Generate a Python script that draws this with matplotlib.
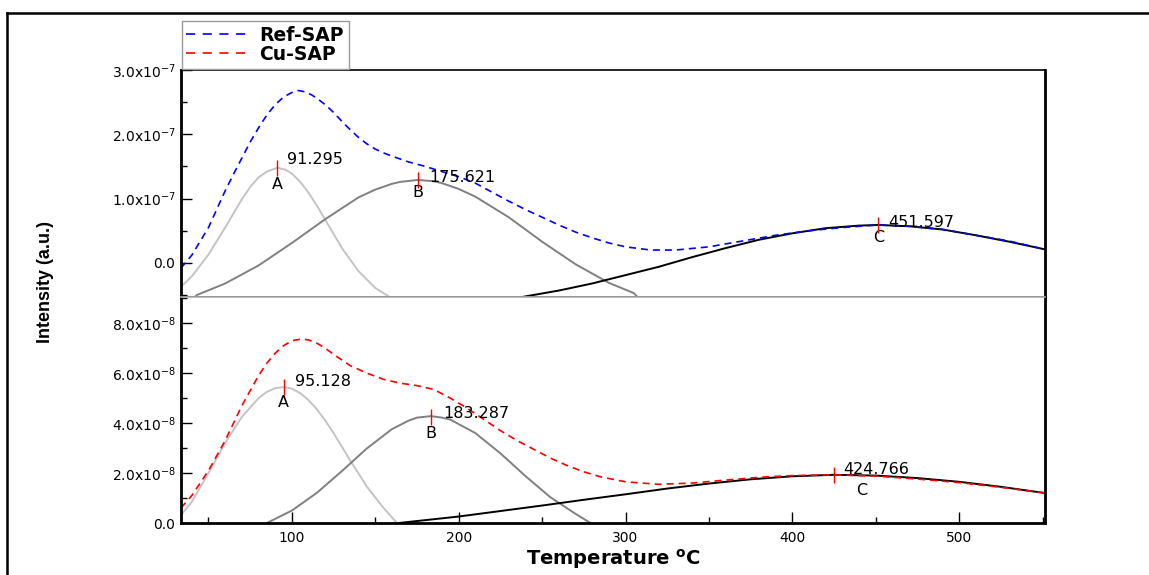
import numpy as np
import matplotlib.pyplot as plt
from matplotlib.lines import Line2D
from matplotlib.ticker import MultipleLocator

plt.rcParams['font.family'] = ['DejaVu Sans']
plt.rcParams['mathtext.default'] = 'regular'

# ---- top panel: Ref-SAP (values in 1e-7) ----
ref_T = [33.5, 40, 43, 50, 57, 60, 65, 70, 75, 80, 85, 90, 95, 100, 104, 108, 112, 116, 120,
         125, 130, 135, 140, 145, 150, 155, 160, 170, 180, 190, 200, 210, 220, 230, 240, 250,
         260, 270, 280, 290, 300, 315, 330, 350, 370, 390, 410, 430, 451.6, 470, 490, 510,
         530, 551.5]
ref_sap = [-0.08, 0.12, 0.25, 0.55, 0.95, 1.12, 1.38, 1.63, 1.88, 2.10, 2.30, 2.46, 2.58,
           2.65, 2.68, 2.66, 2.61, 2.54, 2.46, 2.34, 2.20, 2.07, 1.95, 1.85, 1.77, 1.71,
           1.66, 1.57, 1.50, 1.42, 1.34, 1.24, 1.10, 0.96, 0.83, 0.71, 0.59, 0.48, 0.39,
           0.31, 0.25, 0.20, 0.20, 0.25, 0.34, 0.43, 0.50, 0.55, 0.59, 0.57, 0.52, 0.43,
           0.34, 0.21]

refA_T = [33.5, 40, 50, 60, 70, 75, 80, 85, 91.3, 96, 100, 105, 110, 115, 120, 125, 130, 140,
          150, 158, 161]
refA = [-0.37, -0.21, 0.13, 0.55, 0.99, 1.18, 1.33, 1.42, 1.48, 1.45, 1.39, 1.26, 1.09, 0.89,
        0.67, 0.45, 0.23, -0.13, -0.39, -0.52, -0.58]
refB_T = [40, 43, 60, 80, 100, 120, 140, 150, 160, 165, 175.6, 185, 190, 200, 210, 230, 250,
          270, 290, 305, 309]
refB = [-0.58, -0.50, -0.32, -0.04, 0.31, 0.68, 1.02, 1.14, 1.23, 1.26, 1.29, 1.27, 1.24,
        1.15, 1.03, 0.71, 0.33, -0.02, -0.31, -0.47, -0.58]
refC_T = [234, 238, 260, 280, 300, 320, 340, 360, 380, 400, 420, 440, 451.6, 470, 490, 510,
          530, 551.5]
refC = [-0.58, -0.53, -0.43, -0.32, -0.19, -0.06, 0.09, 0.23, 0.36, 0.46, 0.54, 0.58, 0.59,
        0.57, 0.52, 0.43, 0.33, 0.21]

# ---- bottom panel: Cu-SAP (values in 1e-8) ----
cu_T = [33.5, 40, 50, 60, 70, 80, 85, 90, 95, 100, 106, 110, 115, 120, 125, 135, 145, 155,
        165, 175, 185, 195, 205, 215, 225, 235, 245, 255, 265, 275, 285, 300, 320, 340, 360,
        380, 400, 424.8, 450, 475, 500, 525, 551.5]
cu_sap = [0.6, 1.1, 2.1, 3.3, 4.7, 5.9, 6.4, 6.8, 7.1, 7.3, 7.37, 7.33, 7.2, 7.0, 6.75, 6.3,
          6.0, 5.75, 5.6, 5.5, 5.35, 5.0, 4.6, 4.15, 3.7, 3.3, 2.95, 2.6, 2.3, 2.05, 1.85,
          1.65, 1.55, 1.6, 1.72, 1.83, 1.9, 1.93, 1.88, 1.76, 1.62, 1.43, 1.2]

cuA_T = [33.5, 40, 50, 60, 70, 80, 85, 90, 95.1, 100, 105, 110, 115, 120, 125, 135, 145, 155,
         163]
cuA = [0.32, 0.85, 2.0, 3.2, 4.25, 5.0, 5.25, 5.40, 5.44, 5.38, 5.2, 4.92, 4.55, 4.1, 3.6,
       2.5, 1.45, 0.6, 0.0]
cuB_T = [85, 100, 115, 130, 145, 160, 170, 175, 183.3, 190, 195, 210, 225, 240, 255, 270, 279]
cuB = [0.0, 0.50, 1.21, 2.08, 2.99, 3.76, 4.10, 4.22, 4.28, 4.22, 4.14, 3.60, 2.79, 1.88,
       1.03, 0.37, 0.0]
cuC_T = [164, 200, 225, 250, 275, 300, 325, 350, 375, 400, 424.8, 450, 475, 500, 525, 551.5]
cuC = [0.0, 0.26, 0.48, 0.70, 0.93, 1.15, 1.38, 1.58, 1.75, 1.87, 1.93, 1.90, 1.80, 1.65,
       1.45, 1.2]

# peak positions and labels
top_peaks_T = [91.295, 175.621, 451.597]
top_peaks_v = [1.48, 1.29, 0.59]
bot_peaks_T = [95.128, 183.287, 424.766]
bot_peaks_v = [5.44, 4.26, 1.93]
peak_names = ['A', 'B', 'C']

top_yticks = [0, 1, 2, 3]
top_yticklabels = ['0.0', '1.0x10$^{-7}$', '2.0x10$^{-7}$', '3.0x10$^{-7}$']
bot_yticks = [0, 2, 4, 6, 8]
bot_yticklabels = ['0.0', '2.0x10$^{-8}$', '4.0x10$^{-8}$', '6.0x10$^{-8}$', '8.0x10$^{-8}$']
xticks = [100, 200, 300, 400, 500]

fig = plt.figure(figsize=(11.49, 5.75), dpi=100)
ax1 = fig.add_axes([0.1575, 0.4835, 0.752, 0.3948])
ax2 = fig.add_axes([0.1575, 0.0904, 0.752, 0.3931], sharex=ax1)

col_A, col_B, col_C = '#c4c4c4', '#808080', 'black'
dash = (4.2, 3.0)

ax1.plot(refA_T, refA, color=col_A, lw=1.4)
ax1.plot(refB_T, refB, color=col_B, lw=1.4)
ax1.plot(refC_T, refC, color=col_C, lw=1.4)
ax1.plot(ref_T, ref_sap, color='blue', lw=1.2, dashes=dash)

ax2.plot(cuA_T, cuA, color=col_A, lw=1.4)
ax2.plot(cuB_T, cuB, color=col_B, lw=1.4)
ax2.plot(cuC_T, cuC, color=col_C, lw=1.4)
ax2.plot(cu_T, cu_sap, color='red', lw=1.2, dashes=dash)

# peak markers and annotations
top_num_off = [(7, 6), (8, 2), (7, 2)]
top_let_off = [(0, -12), (0, -9), (0, -9)]
bot_num_off = [(8, 4), (9, 2), (7, 4)]
bot_let_off = [(0, -11), (0, -12), (20, -11)]
for ax, Ts, vs, noff, loff in [(ax1, top_peaks_T, top_peaks_v, top_num_off, top_let_off),
                               (ax2, bot_peaks_T, bot_peaks_v, bot_num_off, bot_let_off)]:
    ax.plot(Ts, vs, ls='none', marker='|', ms=11, mew=1.0, color='red', zorder=5)
    for T, v, name, no, lo in zip(Ts, vs, peak_names, noff, loff):
        ax.annotate(f'{T:.3f}', (T, v), xytext=no, textcoords='offset points',
                    fontsize=11.5, ha='left', va='center')
        ax.annotate(name, (T, v), xytext=lo, textcoords='offset points',
                    fontsize=11.5, ha='center', va='center')

ax1.set_xlim(33.5, 551.5)
ax1.set_ylim(-0.53, 3.0)
ax2.set_ylim(0, 9.05)

ax1.set_yticks(top_yticks)
ax1.set_yticklabels(top_yticklabels)
ax1.yaxis.set_minor_locator(MultipleLocator(0.5))
ax2.set_yticks(bot_yticks)
ax2.set_yticklabels(bot_yticklabels)
ax2.yaxis.set_minor_locator(MultipleLocator(1))
ax2.set_xticks(xticks)
ax2.xaxis.set_minor_locator(MultipleLocator(50))

for ax in (ax1, ax2):
    ax.tick_params(which='major', direction='in', length=8, width=1, labelsize=10, pad=4)
    ax.tick_params(which='minor', direction='in', length=4, width=1)
    ax.spines['left'].set_linewidth(2)
    ax.spines['right'].set_linewidth(2)
    ax.spines['top'].set_linewidth(1.2)
    ax.spines['bottom'].set_linewidth(1.2)
ax1.tick_params(axis='x', which='both', bottom=False, labelbottom=False)
ax2.spines['bottom'].set_linewidth(2)
ax2.spines['top'].set_color('#b0b0b0')
ax2.tick_params(axis='x', which='major', pad=6)

ax2.set_xlabel('Temperature $^{\\mathregular{o}}$C', fontsize=14, fontweight='bold', labelpad=1)
fig.text(0.04, 0.51, 'Intensity (a.u.)', rotation=90, fontsize=13, fontweight='bold',
         family=['Liberation Sans', 'DejaVu Sans'], ha='center', va='center')

handles = [Line2D([], [], color='blue', lw=1.2, dashes=(5.5, 4.5)),
           Line2D([], [], color='red', lw=1.2, dashes=(5.5, 4.5))]
fig.legend(handles, ['Ref-SAP', 'Cu-SAP'], loc='upper left', bbox_to_anchor=(0.158, 0.963),
           prop={'weight': 'bold', 'size': 13.5}, fancybox=False, edgecolor='#999999',
           framealpha=1, borderaxespad=0, handlelength=3.4, labelspacing=0.0,
           borderpad=0.25, handletextpad=0.5)

# outer frame (top and left edges)
fig.add_artist(Line2D([0.0061, 1.0], [0.9774, 0.9774], color='black', lw=1.8,
                      transform=fig.transFigure))
fig.add_artist(Line2D([0.0061, 0.0061], [0.0, 0.9774], color='black', lw=1.8,
                      transform=fig.transFigure))

fig.savefig('out.png', dpi=100)
